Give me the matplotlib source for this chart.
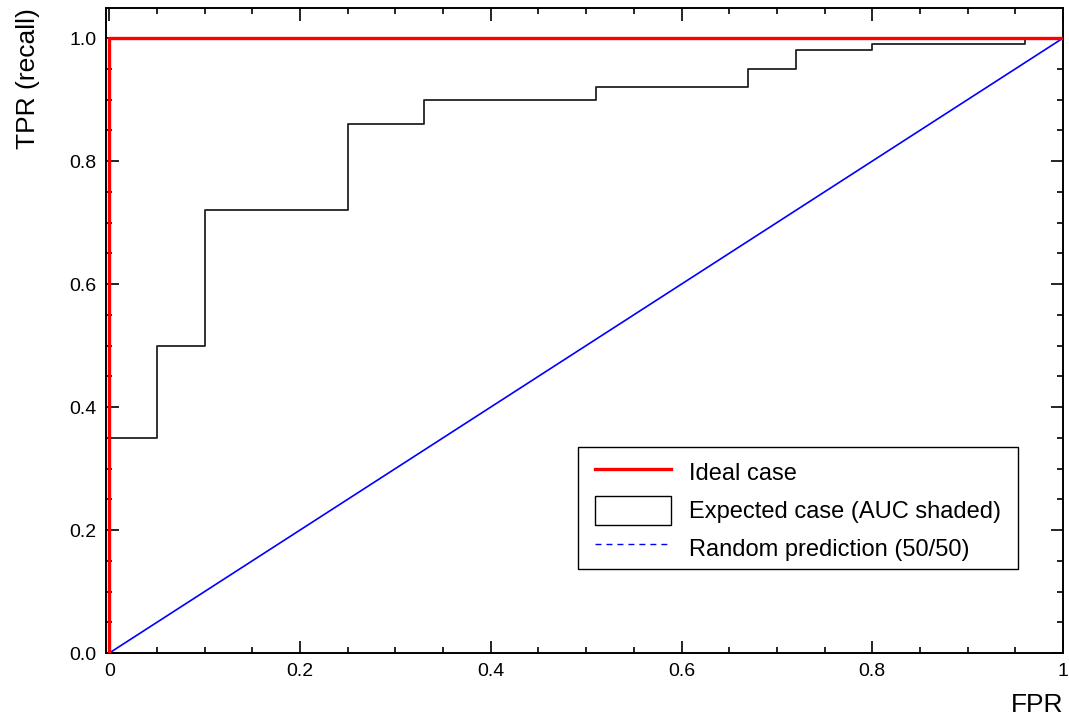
import matplotlib
matplotlib.use("Agg")
import matplotlib.pyplot as plt
from matplotlib.lines import Line2D
from matplotlib.patches import Patch, Rectangle
from matplotlib.ticker import MultipleLocator

plt.rcParams['font.family'] = ['Liberation Sans', 'DejaVu Sans']

# ROC data
fpr_expected = [0.0, 0.0, 0.05, 0.05, 0.10, 0.10, 0.25, 0.25, 0.33, 0.33, 0.51, 0.51,
                0.67, 0.67, 0.72, 0.72, 0.80, 0.80, 0.96, 0.96, 1.0]
tpr_expected = [0.0, 0.35, 0.35, 0.50, 0.50, 0.72, 0.72, 0.86, 0.86, 0.90, 0.90, 0.92,
                0.92, 0.95, 0.95, 0.98, 0.98, 0.99, 0.99, 1.0, 1.0]
fpr_ideal = [0.0, 0.0, 1.0]
tpr_ideal = [0.0, 1.0, 1.0]
fpr_random = [0.0, 1.0]
tpr_random = [0.0, 1.0]

x_ticks = [0.0, 0.2, 0.4, 0.6, 0.8, 1.0]
x_tick_labels = ["0", "0.2", "0.4", "0.6", "0.8", "1"]
y_ticks = [0.0, 0.2, 0.4, 0.6, 0.8, 1.0]
y_tick_labels = ["0.0", "0.2", "0.4", "0.6", "0.8", "1.0"]

labels = ["Ideal case", "Expected case (AUC shaded)", "Random prediction (50/50)"]

W, H = 1069, 715
fig = plt.figure(figsize=(W / 100, H / 100), dpi=100)
ax = fig.add_axes([106 / W, (H - 653) / H, (1063 - 106) / W, (653 - 8) / H])

ax.plot(fpr_expected, tpr_expected, color='#222222', lw=1.3, zorder=2)
ax.plot(fpr_random, tpr_random, color='#0000ff', lw=1.2, zorder=3)
ax.plot(fpr_ideal, tpr_ideal, color='#ff0000', lw=2.4, zorder=4)

ax.set_xlim(-0.0035, 1.0)
ax.set_ylim(0.0, 1.049)

ax.set_xticks(x_ticks)
ax.set_xticklabels(x_tick_labels)
ax.set_yticks(y_ticks)
ax.set_yticklabels(y_tick_labels)
ax.xaxis.set_minor_locator(MultipleLocator(0.05))
ax.yaxis.set_minor_locator(MultipleLocator(0.05))
ax.tick_params(which='both', direction='in', top=True, right=True, width=1.2,
               labelsize=14, pad=7)
ax.tick_params(which='major', length=9)
ax.tick_params(which='minor', length=4.5)
for s in ax.spines.values():
    s.set_linewidth(1.4)

ax.set_xlabel("FPR", fontsize=19, loc='right', labelpad=9.5)
ax.set_ylabel("TPR (recall)", fontsize=19, loc='top', labelpad=21)

# legend frame
fig.patches.append(Rectangle((578 / W, (H - 569) / H), (1018 - 578) / W, (569 - 447) / H,
                             transform=fig.transFigure, facecolor='white',
                             edgecolor='black', lw=1.0, zorder=5))

fs_pt = 17
fs_px = fs_pt * 100 / 72
handles = [
    Line2D([0], [0], color='#ff0000', lw=2.4),
    Patch(facecolor='white', edgecolor='black', lw=1.0),
    Line2D([0], [0], color='#0000ff', lw=1.0, ls=(0, (4.3, 3.6))),
]
leg = fig.legend(handles, labels, loc='upper left',
                 bbox_to_anchor=(595 / W, (H - 458) / H), bbox_transform=fig.transFigure,
                 fontsize=fs_pt, frameon=False, borderpad=0, borderaxespad=0,
                 handlelength=76 / fs_px, handleheight=1.52,
                 handletextpad=18 / fs_px, labelspacing=8.5 / fs_px)
leg.set_zorder(6)

fig.savefig("out.png", dpi=100)
